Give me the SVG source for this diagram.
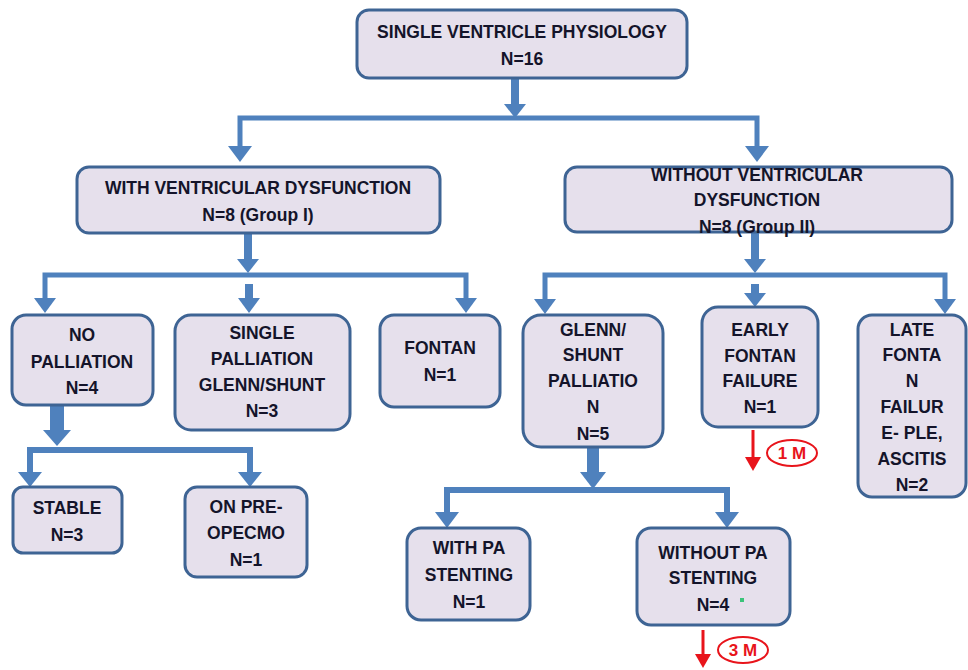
<svg xmlns="http://www.w3.org/2000/svg" width="968" height="670" viewBox="0 0 968 670">
<style>
.box{fill:#E6E0EC;stroke:#3E6494;stroke-width:3}
.t{font-family:"Liberation Sans",Arial,sans-serif;font-weight:bold;font-size:17.5px;fill:#14142A;text-anchor:middle}
.c{stroke:#4F81BD;fill:none;stroke-linejoin:miter}
.h{fill:#4F81BD}
.red{stroke:#E8141B;stroke-width:3;fill:none}
.rt{font-family:"Liberation Sans",Arial,sans-serif;font-weight:bold;font-size:17px;fill:#E8141B;text-anchor:middle}
</style>
<rect width="968" height="670" fill="#FFFFFF"/>
<g id="connectors">
  <path class="c" stroke-width="8" d="M515 78 V104"/>
  <polygon class="h" points="504,104 526,104 515,118"/>
  <path class="c" stroke-width="5" d="M240 150 V118 H757 V150"/>
  <polygon class="h" points="228,146 252,146 240,162"/>
  <polygon class="h" points="745,146 769,146 757,162"/>
  <path class="c" stroke-width="8" d="M248 233 V259"/>
  <polygon class="h" points="237,259 259,259 248,273"/>
  <path class="c" stroke-width="5" d="M45 300 V275 H466 V300"/>
  <polygon class="h" points="34,298 56,298 45,313"/>
  <polygon class="h" points="455,298 477,298 466,313"/>
  <path class="c" stroke-width="8" d="M249 284 V299"/>
  <polygon class="h" points="238,298 260,298 249,313"/>
  <path class="c" stroke-width="8" d="M755 232 V259"/>
  <polygon class="h" points="744,259 766,259 755,273"/>
  <path class="c" stroke-width="5" d="M545 300 V275 H945 V300"/>
  <polygon class="h" points="534,299 556,299 545,314"/>
  <polygon class="h" points="934,299 956,299 945,314"/>
  <path class="c" stroke-width="8" d="M755 284 V294"/>
  <polygon class="h" points="744,293 766,293 755,307"/>
  <path class="c" stroke-width="14" d="M57 405 V431"/>
  <polygon class="h" points="43,430 71,430 57,446"/>
  <path class="c" stroke-width="6" d="M30 474 V450 H250 V474"/>
  <polygon class="h" points="18,472 42,472 30,487"/>
  <polygon class="h" points="238,472 262,472 250,487"/>
  <path class="c" stroke-width="12" d="M593 447 V473"/>
  <polygon class="h" points="580,472 606,472 593,489"/>
  <path class="c" stroke-width="6" d="M447 514 V490 H727 V514"/>
  <polygon class="h" points="435,512 459,512 447,528"/>
  <polygon class="h" points="715,512 739,512 727,528"/>
  <path class="red" d="M753 430 V460"/>
  <polygon fill="#E8141B" points="745,457 761,457 753,471"/>
  <path class="red" d="M703 630 V656"/>
  <polygon fill="#E8141B" points="695,654 711,654 703,668"/>
</g>
<g id="n_root">
  <rect class="box" x="357" y="10" width="330" height="68" rx="12"/>
  <text class="t" x="522" y="38">SINGLE VENTRICLE PHYSIOLOGY</text>
  <text class="t" x="522" y="65">N=16</text>
</g>
<g id="n_with">
  <rect class="box" x="77" y="167" width="363" height="66" rx="12"/>
  <text class="t" x="258" y="194">WITH VENTRICULAR DYSFUNCTION</text>
  <text class="t" x="258" y="221">N=8 (Group I)</text>
</g>
<g id="n_without">
  <rect class="box" x="565" y="167" width="387" height="65" rx="12"/>
  <text class="t" x="757" y="181">WITHOUT VENTRICULAR</text>
  <text class="t" x="757" y="206">DYSFUNCTION</text>
  <text class="t" x="757" y="233">N=8 (Group II)</text>
</g>
<g id="n_nopall">
  <rect class="box" x="12" y="315" width="141" height="90" rx="14"/>
  <text class="t" x="82" y="341">NO</text>
  <text class="t" x="82" y="368">PALLIATION</text>
  <text class="t" x="82" y="394">N=4</text>
</g>
<g id="n_single">
  <rect class="box" x="175" y="315" width="175" height="115" rx="16"/>
  <text class="t" x="262" y="339">SINGLE</text>
  <text class="t" x="262" y="365">PALLIATION</text>
  <text class="t" x="262" y="391">GLENN/SHUNT</text>
  <text class="t" x="262" y="417">N=3</text>
</g>
<g id="n_fontan">
  <rect class="box" x="380" y="315" width="120" height="92" rx="14"/>
  <text class="t" x="440" y="354">FONTAN</text>
  <text class="t" x="440" y="381">N=1</text>
</g>
<g id="n_stable">
  <rect class="box" x="13" y="487" width="109" height="66" rx="10"/>
  <text class="t" x="67" y="514">STABLE</text>
  <text class="t" x="67" y="541">N=3</text>
</g>
<g id="n_ecmo">
  <rect class="box" x="185" y="487" width="122" height="90" rx="12"/>
  <text class="t" x="246" y="513">ON PRE-</text>
  <text class="t" x="246" y="539">OPECMO</text>
  <text class="t" x="246" y="566">N=1</text>
</g>
<g id="n_glenn">
  <rect class="box" x="523" y="315" width="140" height="132" rx="18"/>
  <text class="t" x="593" y="336">GLENN/</text>
  <text class="t" x="593" y="361">SHUNT</text>
  <text class="t" x="593" y="387">PALLIATIO</text>
  <text class="t" x="593" y="413">N</text>
  <text class="t" x="593" y="440">N=5</text>
</g>
<g id="n_early">
  <rect class="box" x="702" y="307" width="116" height="120" rx="16"/>
  <text class="t" x="760" y="336">EARLY</text>
  <text class="t" x="760" y="362">FONTAN</text>
  <text class="t" x="760" y="387">FAILURE</text>
  <text class="t" x="760" y="413">N=1</text>
</g>
<g id="n_late">
  <rect class="box" x="858" y="315" width="108" height="182" rx="14"/>
  <text class="t" x="912" y="336">LATE</text>
  <text class="t" x="912" y="361">FONTA</text>
  <text class="t" x="912" y="387">N</text>
  <text class="t" x="912" y="413">FAILUR</text>
  <text class="t" x="912" y="439">E- PLE,</text>
  <text class="t" x="912" y="465">ASCITIS</text>
  <text class="t" x="912" y="491">N=2</text>
</g>
<g id="n_withpa">
  <rect class="box" x="407" y="528" width="123" height="92" rx="14"/>
  <text class="t" x="469" y="554">WITH PA</text>
  <text class="t" x="469" y="581">STENTING</text>
  <text class="t" x="469" y="608">N=1</text>
</g>
<g id="n_withoutpa">
  <rect class="box" x="637" y="528" width="153" height="97" rx="14"/>
  <text class="t" x="713" y="559">WITHOUT  PA</text>
  <text class="t" x="713" y="584">STENTING</text>
  <text class="t" x="713" y="611">N=4</text>
  <rect x="740" y="598" width="4" height="4" fill="#3CC47A"/>
</g>
<g id="n_1m">
  <ellipse cx="792" cy="453" rx="25" ry="13" fill="#FFFFFF" stroke="#E8141B" stroke-width="2"/>
  <text class="rt" x="792" y="459">1 M</text>
</g>
<g id="n_3m">
  <ellipse cx="743" cy="650" rx="25" ry="13" fill="#FFFFFF" stroke="#E8141B" stroke-width="2"/>
  <text class="rt" x="743" y="656">3 M</text>
</g>
</svg>
